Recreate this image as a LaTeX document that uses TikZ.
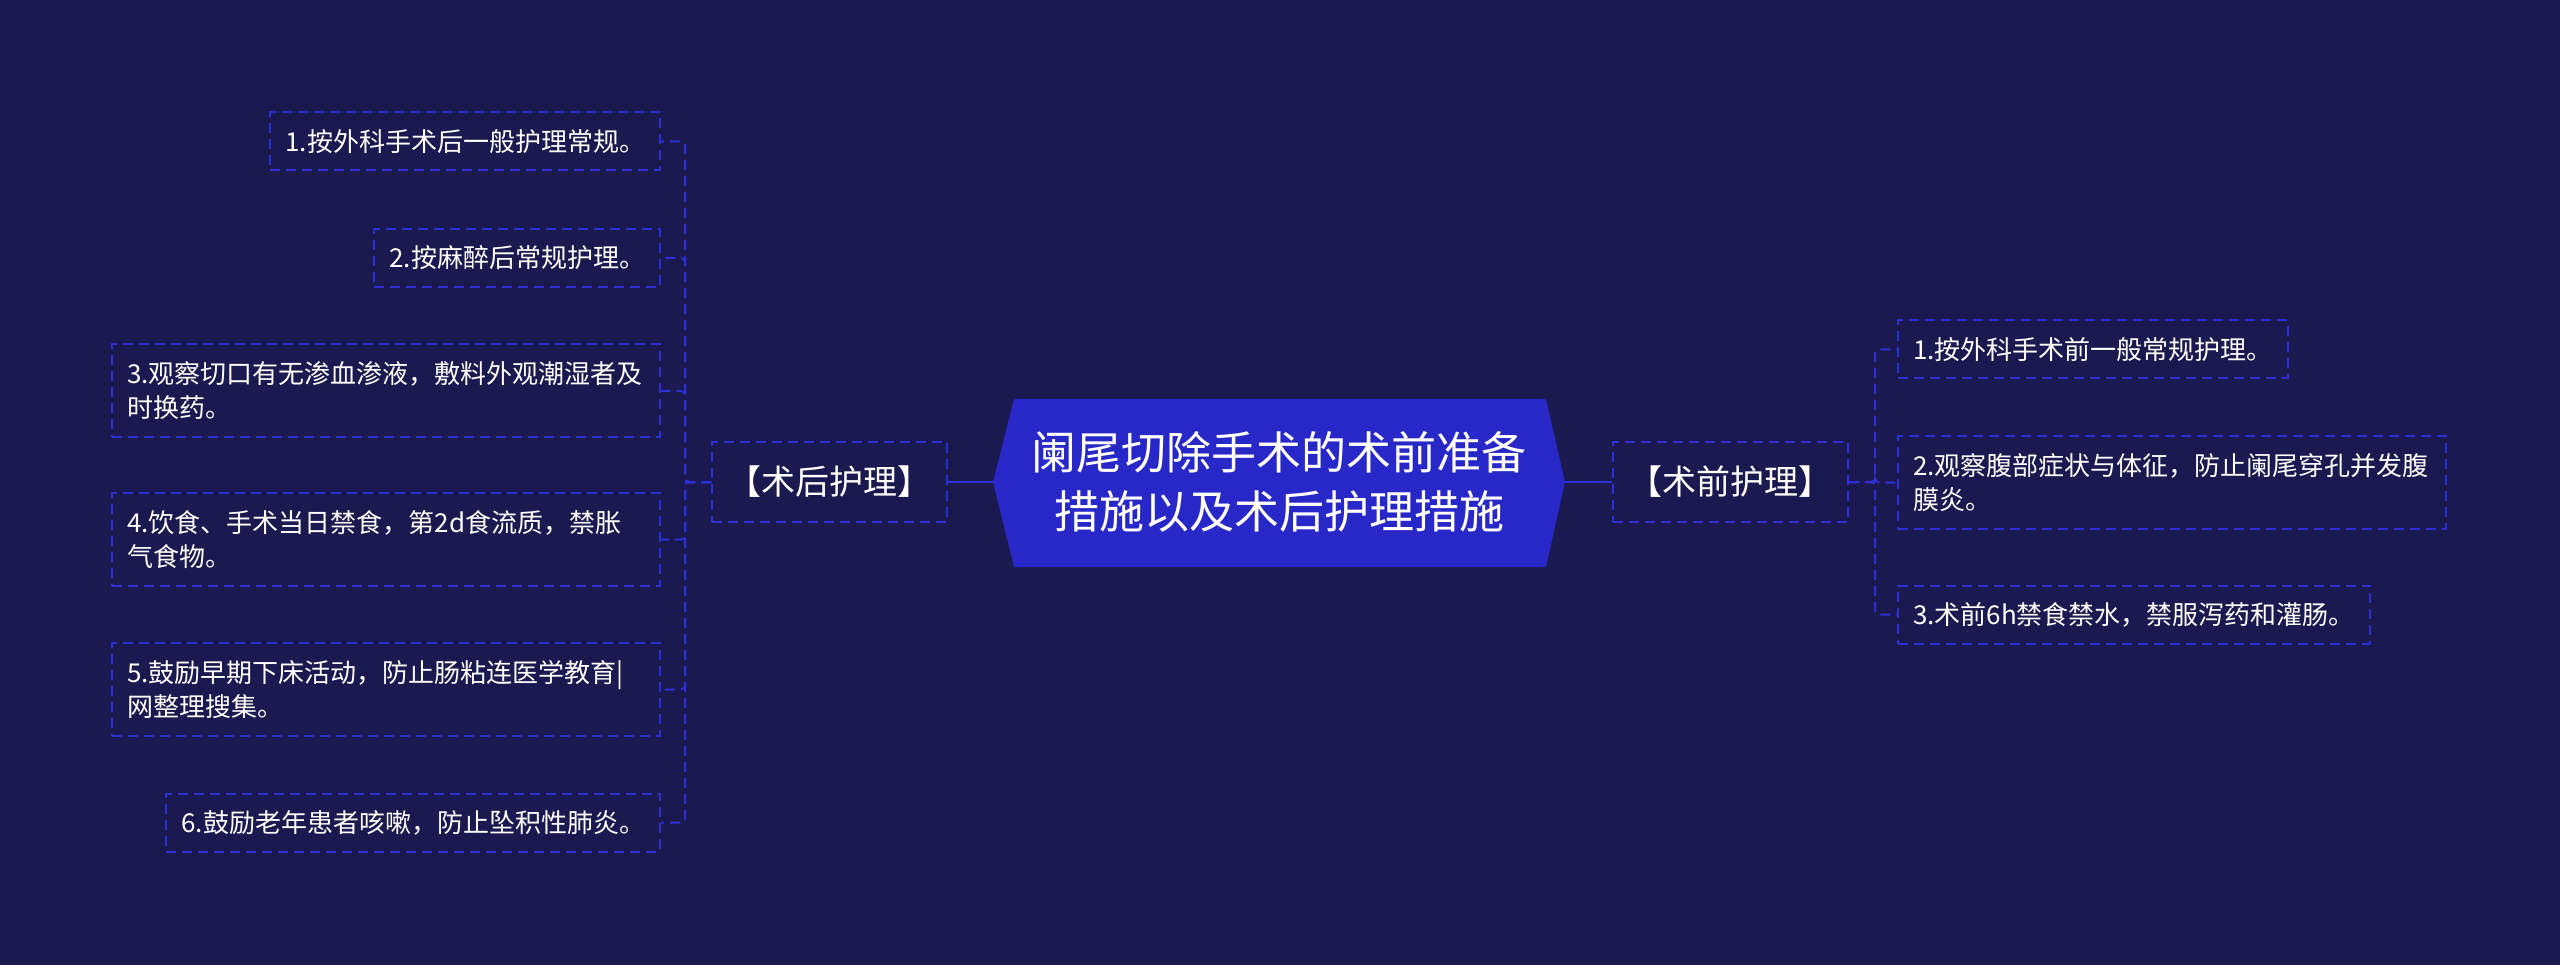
\documentclass[tikz,border=0pt]{standalone}
\usepackage{fontspec}
\setmainfont{Noto Sans CJK SC}
\definecolor{bgnavy}{RGB}{26,25,80}
\definecolor{topicblue}{RGB}{40,40,200}
\definecolor{lineblue}{RGB}{46,46,215}
\tikzset{
  leaf/.style={draw=lineblue, line width=2pt, dash pattern=on 10pt off 6pt, text=white,
    font=\fontsize{26}{34}\selectfont, align=left, inner xsep=15pt, inner ysep=0pt,
    minimum height=58pt},
  leaftwo/.style={leaf, text width=518pt, minimum height=93pt},
  branch/.style={draw=lineblue, line width=2pt, dash pattern=on 10pt off 6pt, text=white,
    font=\fontsize{34}{40}\selectfont, minimum width=235pt, minimum height=80pt},
  link/.style={draw=lineblue, line width=2pt, dash pattern=on 10pt off 6pt, rounded corners=4pt},
  trunk/.style={draw=lineblue, line width=2.5pt},
}
\begin{document}
\begin{tikzpicture}[x=1pt, y=-1pt]
  % canvas
  \fill[bgnavy] (0,0) rectangle (2560,965);
  \useasboundingbox (0,0) rectangle (2560,965);

  % central topic
  \fill[topicblue] (993,482) -- (1014,399) -- (1546,399) -- (1565,482) -- (1546,567) -- (1014,567) -- cycle;
  \node[text=white, align=center, font=\fontsize{45}{59}\selectfont,
        minimum width=572pt, minimum height=168pt] (topic) at (1279,482)
        {阑尾切除手术的术前准备\\措施以及术后护理措施};

  % branches
  \node[branch] (postop) at (829.5,482) {【术后护理】};
  \node[branch] (preop) at (1730.5,482) {【术前护理】};

  % post-op items
  \node[leaf, anchor=east] (l1) at (661,141.5) {1.按外科手术后一般护理常规。};
  \node[leaf, anchor=east] (l2) at (661,258) {2.按麻醉后常规护理。};
  \node[leaftwo, anchor=east] (l3) at (661,391) {3.观察切口有无渗血渗液，敷料外观潮湿者及\\时换药。};
  \node[leaftwo, anchor=east] (l4) at (661,539.5) {4.饮食、手术当日禁食，第2d食流质，禁胀\\气食物。};
  \node[leaftwo, anchor=east] (l5) at (661,689.5) {5.鼓励早期下床活动，防止肠粘连医学教育|\\网整理搜集。};
  \node[leaf, anchor=east] (l6) at (661,822.5) {6.鼓励老年患者咳嗽，防止坠积性肺炎。};

  % pre-op items
  \node[leaf, anchor=west] (r1) at (1897,349.5) {1.按外科手术前一般常规护理。};
  \node[leaftwo, anchor=west] (r2) at (1897,482.5) {2.观察腹部症状与体征，防止阑尾穿孔并发腹\\膜炎。};
  \node[leaf, anchor=west] (r3) at (1897,614.5) {3.术前6h禁食禁水，禁服泻药和灌肠。};

  % connectors
  \draw[trunk] (topic.west) -- (postop.east);
  \draw[trunk] (topic.east) -- (preop.west);
  \foreach \n in {l1,l2,l3,l4,l5,l6}
    \draw[link] (postop.west) -- ++(-26,0) |- (\n.east);
  \foreach \n in {r1,r2,r3}
    \draw[link] (preop.east) -- ++(26,0) |- (\n.west);
\end{tikzpicture}
\end{document}
